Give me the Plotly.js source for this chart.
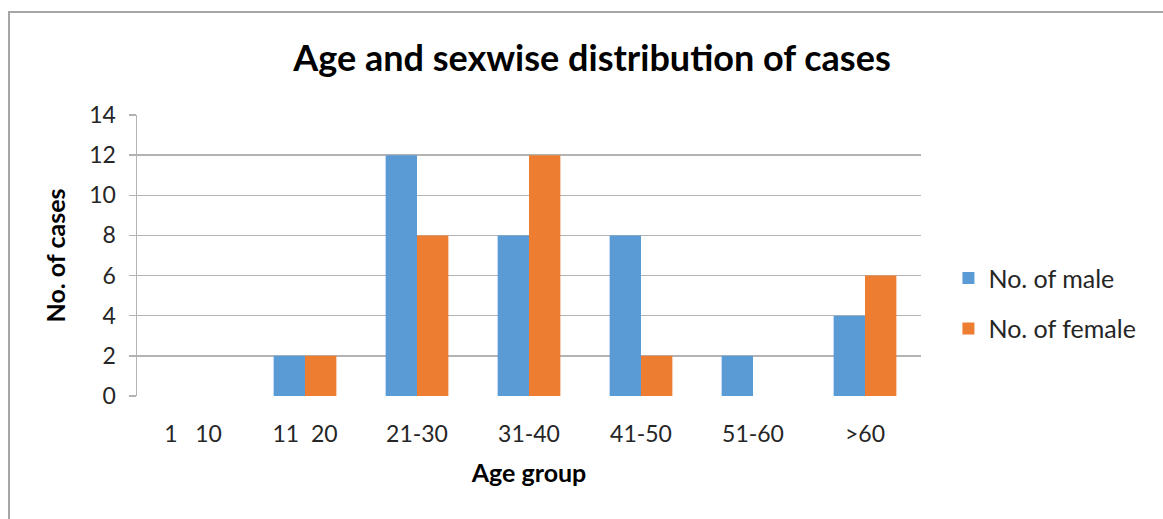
<!DOCTYPE html>
<html>
<head>
<meta charset="utf-8">
<script src="https://cdn.plot.ly/plotly-3.0.1.min.js"></script>
<style>
html,body{margin:0;padding:0;background:#fff;}
#wrap{position:relative;width:1163px;height:519px;overflow:hidden;}
#frame{position:absolute;left:8px;top:11px;width:1160px;height:520px;border:2px solid #a6a6a6;box-sizing:border-box;}
#chart{position:absolute;left:0;top:0;width:1163px;height:519px;}
</style>
</head>
<body>
<div id="wrap"><div id="frame"></div><div id="chart"></div></div>
<script>
const categories = ["1\u00a0\u00a0\u00a010", "11\u00a0\u00a020", "21-30", "31-40", "41-50", "51-60", ">60"];
const maleCounts = [0, 2, 12, 8, 8, 2, 4];
const femaleCounts = [0, 2, 8, 12, 2, 0, 6];
const seriesNames = ["No. of male", "No. of female"];
const yTicks = [0, 2, 4, 6, 8, 10, 12, 14];

const font = "Lato, 'Open Sans', sans-serif";
const traces = [
  {type: "bar", name: seriesNames[0], x: categories, y: maleCounts, legendgroup: "m",
   marker: {color: "#5B9BD5"}},
  {type: "bar", name: seriesNames[1], x: categories, y: femaleCounts, legendgroup: "f",
   marker: {color: "#ED7D31"}}
];
const layout = {
  width: 1163, height: 519,
  paper_bgcolor: "rgba(0,0,0,0)", plot_bgcolor: "rgba(0,0,0,0)",
  margin: {l: 137, r: 242, t: 115, b: 123, pad: 0},
  font: {family: font, color: "#262626", size: 23},
  title: {text: "<b>Age and sexwise distribution of cases</b>", font: {size: 36, color: "#000"},
          x: 592/1163, xanchor: "center", y: 1 - 58/519, yanchor: "middle"},
  barmode: "group", bargap: 0.44, bargroupgap: 0,
  showlegend: true,
  legend: {x: 1.035, xanchor: "left", y: 0.33, yanchor: "middle", font: {size: 25, color: "#262626"},
           itemwidth: 30, tracegroupgap: 15, bgcolor: "rgba(0,0,0,0)"},
  xaxis: {type: "category", showgrid: false, showline: false, ticks: "", zeroline: false,
          tickfont: {size: 23, color: "#262626"}, ticklabelstandoff: 22,
          title: {text: "<b>Age group</b>", font: {size: 25, color: "#000"}, standoff: 18}},
  yaxis: {range: [0, 14], tickvals: yTicks, showgrid: true, gridcolor: "#b3b3b3", gridwidth: 1.5,
          showline: true, linecolor: "#b3b3b3", linewidth: 1.5, ticks: "outside", ticklen: 7,
          tickcolor: "#b3b3b3", tickwidth: 1.5, zeroline: false,
          tickfont: {size: 23, color: "#262626"}, ticklabelstandoff: 8,
          title: {text: "<b>No. of cases</b>", font: {size: 25, color: "#000"}, standoff: 16}}
};
Plotly.newPlot("chart", traces, layout, {staticPlot: true, displayModeBar: false});
</script>
</body>
</html>
